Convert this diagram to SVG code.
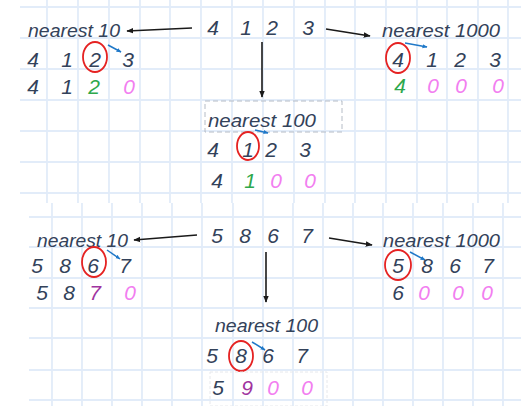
<svg xmlns="http://www.w3.org/2000/svg" width="521" height="406" viewBox="0 0 521 406">
<defs>
<marker id="ah" viewBox="0 0 10 10" refX="9" refY="5" markerWidth="7" markerHeight="7" orient="auto" markerUnits="userSpaceOnUse"><path d="M0,1 L10,5 L0,9 z" fill="#1a1a1a"/></marker>
<marker id="bh" viewBox="0 0 10 10" refX="9" refY="5" markerWidth="5" markerHeight="5" orient="auto" markerUnits="userSpaceOnUse"><path d="M0,1 L10,5 L0,9 z" fill="#1f78c8"/></marker>
</defs>
<style>
.g line{stroke:#e2ecf9;stroke-width:1.8}
text{font-family:"Liberation Sans","DejaVu Sans",sans-serif;font-style:italic;fill:#33425a}
.lab{font-size:19px}
.d{font-size:21px;text-anchor:middle}
.gr{fill:#2ea84c}
.pk{fill:#f27ef0}
.pu{fill:#a0349f}
.arr{stroke:#1a1a1a;stroke-width:1.6;fill:none;marker-end:url(#ah)}
.barr{stroke:#1f78c8;stroke-width:1.5;fill:none;marker-end:url(#bh)}
.c{fill:none;stroke:#e52222;stroke-width:1.8}
</style>
<rect width="521" height="406" fill="#ffffff"/>
<g class="g" id="grid-top">
<line x1="20" y1="7" x2="521" y2="7"/><line x1="20" y1="38" x2="521" y2="38"/><line x1="20" y1="69" x2="521" y2="69"/><line x1="20" y1="100" x2="521" y2="100"/><line x1="20" y1="131" x2="521" y2="131"/><line x1="20" y1="162" x2="521" y2="162"/><line x1="20" y1="193" x2="521" y2="193"/>
<line x1="47" y1="0" x2="47" y2="203"/><line x1="78" y1="0" x2="78" y2="203"/><line x1="109" y1="0" x2="109" y2="203"/><line x1="140" y1="0" x2="140" y2="203"/><line x1="170" y1="0" x2="170" y2="203"/><line x1="201" y1="0" x2="201" y2="203"/><line x1="232" y1="0" x2="232" y2="203"/><line x1="263" y1="0" x2="263" y2="203"/><line x1="294" y1="0" x2="294" y2="203"/><line x1="325" y1="0" x2="325" y2="203"/><line x1="355" y1="0" x2="355" y2="203"/><line x1="386" y1="0" x2="386" y2="203"/><line x1="417" y1="0" x2="417" y2="203"/><line x1="447" y1="0" x2="447" y2="203"/><line x1="478" y1="0" x2="478" y2="203"/><line x1="508" y1="0" x2="508" y2="203"/>
</g>
<g class="g" id="grid-bottom">
<line x1="29" y1="217" x2="521" y2="217"/><line x1="29" y1="247" x2="521" y2="247"/><line x1="29" y1="278" x2="521" y2="278"/><line x1="29" y1="308" x2="521" y2="308"/><line x1="29" y1="338" x2="521" y2="338"/><line x1="29" y1="370" x2="521" y2="370"/><line x1="29" y1="400" x2="521" y2="400"/>
<line x1="52" y1="203" x2="52" y2="406"/><line x1="82" y1="203" x2="82" y2="406"/><line x1="112" y1="203" x2="112" y2="406"/><line x1="142" y1="203" x2="142" y2="406"/><line x1="172" y1="203" x2="172" y2="406"/><line x1="202" y1="203" x2="202" y2="406"/><line x1="233" y1="203" x2="233" y2="406"/><line x1="263" y1="203" x2="263" y2="406"/><line x1="293" y1="203" x2="293" y2="406"/><line x1="323" y1="203" x2="323" y2="406"/><line x1="353" y1="203" x2="353" y2="406"/><line x1="383" y1="203" x2="383" y2="406"/><line x1="413" y1="203" x2="413" y2="406"/><line x1="443" y1="203" x2="443" y2="406"/><line x1="473" y1="203" x2="473" y2="406"/><line x1="503" y1="203" x2="503" y2="406"/>
</g>

<g id="connectors">
<line class="arr" x1="192" y1="28" x2="127" y2="31"/>
<line class="arr" x1="326" y1="29" x2="370" y2="36"/>
<line class="arr" x1="262" y1="42" x2="262" y2="97"/>
<line class="arr" x1="197" y1="235" x2="134" y2="240"/>
<line class="arr" x1="329" y1="238" x2="372" y2="245"/>
<line class="arr" x1="266" y1="252" x2="266" y2="302"/>
</g>

<g id="top-number">
<text class="d" x="213" y="35">4</text><text class="d" x="246" y="35">1</text><text class="d" x="272" y="35">2</text><text class="d" x="308" y="35">3</text>
</g>

<g id="top-nearest10">
<text class="lab" x="28" y="37" textLength="92" lengthAdjust="spacingAndGlyphs">nearest 10</text>
<ellipse class="c" cx="95" cy="57" rx="12" ry="15"/>
<line class="barr" x1="108" y1="45" x2="121" y2="52"/>
<text class="d" x="33" y="67">4</text><text class="d" x="67" y="67">1</text><text class="d" x="95" y="67">2</text><text class="d" x="128" y="67">3</text>
<text class="d" x="33" y="94">4</text><text class="d" x="67" y="94">1</text><text class="d gr" x="94" y="94">2</text><text class="d pk" x="129" y="94">0</text>
</g>

<g id="top-nearest1000">
<text class="lab" x="382" y="37" textLength="118" lengthAdjust="spacingAndGlyphs">nearest 1000</text>
<ellipse class="c" cx="398" cy="58" rx="12" ry="15"/>
<line class="barr" x1="405" y1="43" x2="427" y2="47"/>
<text class="d" x="398" y="67">4</text><text class="d" x="432" y="67">1</text><text class="d" x="460" y="67">2</text><text class="d" x="495" y="67">3</text>
<text class="d gr" x="400" y="93">4</text><text class="d pk" x="433" y="93">0</text><text class="d pk" x="461" y="93">0</text><text class="d pk" x="498" y="93">0</text>
</g>

<g id="top-nearest100">
<rect x="205" y="101" width="137" height="31" fill="none" stroke="#b5bcc6" stroke-width="1" stroke-dasharray="5,3"/>
<text class="lab" x="208" y="127" textLength="108" lengthAdjust="spacingAndGlyphs">nearest 100</text>
<ellipse class="c" cx="248" cy="146" rx="11" ry="14"/>
<line class="barr" x1="255" y1="130" x2="268" y2="133"/>
<text class="d" x="213" y="157">4</text><text class="d" x="248" y="157">1</text><text class="d" x="271" y="157">2</text><text class="d" x="305" y="157">3</text>
<text class="d" x="217" y="188">4</text><text class="d gr" x="250" y="188">1</text><text class="d pk" x="276" y="188">0</text><text class="d pk" x="310" y="188">0</text>
</g>

<g id="bottom-number">
<text class="d" x="217" y="243">5</text><text class="d" x="245" y="243">8</text><text class="d" x="273" y="243">6</text><text class="d" x="307" y="243">7</text>
</g>

<g id="bottom-nearest10">
<text class="lab" x="37" y="247" textLength="91" lengthAdjust="spacingAndGlyphs">nearest 10</text>
<ellipse class="c" cx="94" cy="262" rx="12" ry="15"/>
<line class="barr" x1="107" y1="250" x2="120" y2="259"/>
<text class="d" x="37" y="273">5</text><text class="d" x="65" y="273">8</text><text class="d" x="93" y="273">6</text><text class="d" x="125" y="273">7</text>
<text class="d" x="42" y="300">5</text><text class="d" x="69" y="300">8</text><text class="d pu" x="95" y="300">7</text><text class="d pk" x="130" y="300">0</text>
</g>

<g id="bottom-nearest1000">
<text class="lab" x="383" y="247" textLength="117" lengthAdjust="spacingAndGlyphs">nearest 1000</text>
<ellipse class="c" cx="398" cy="265" rx="13" ry="15"/>
<line class="barr" x1="410" y1="252" x2="425" y2="260"/>
<text class="d" x="398" y="273">5</text><text class="d" x="427" y="273">8</text><text class="d" x="455" y="273">6</text><text class="d" x="488" y="273">7</text>
<text class="d" x="398" y="300">6</text><text class="d pk" x="424" y="300">0</text><text class="d pk" x="458" y="300">0</text><text class="d pk" x="487" y="300">0</text>
</g>

<g id="bottom-nearest100">
<text class="lab" x="215" y="332" textLength="103" lengthAdjust="spacingAndGlyphs">nearest 100</text>
<ellipse class="c" cx="241" cy="356" rx="12" ry="15"/>
<line class="barr" x1="252" y1="342" x2="265" y2="350"/>
<text class="d" x="212" y="363">5</text><text class="d" x="241" y="363">8</text><text class="d" x="268" y="363">6</text><text class="d" x="302" y="363">7</text>
<rect x="210" y="372" width="117" height="34" fill="none" stroke="#e6e8ec" stroke-width="1" stroke-dasharray="3,2"/>
<text class="d" x="218" y="395">5</text><text class="d pu" x="247" y="395">9</text><text class="d pk" x="273" y="395">0</text><text class="d pk" x="307" y="395">0</text>
</g>
</svg>
